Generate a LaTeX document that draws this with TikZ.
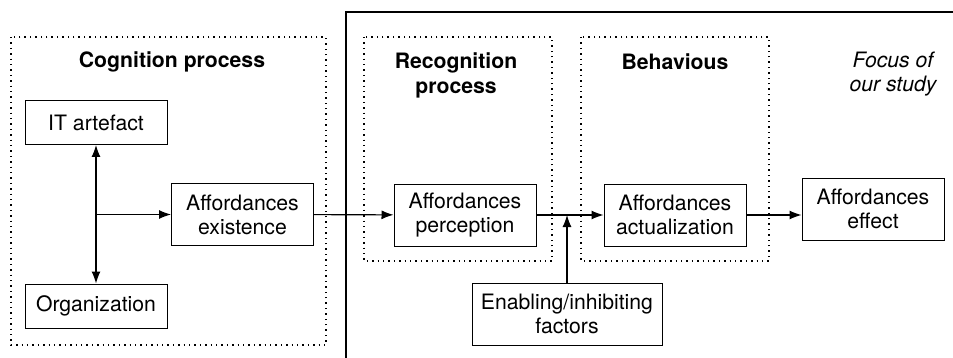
\documentclass[tikz,border=0pt]{standalone}
\usepackage{fontspec}
\setmainfont{TeX Gyre Heros}
\usetikzlibrary{positioning}
\usetikzlibrary{arrows.meta}
\usetikzlibrary{calc}

\begin{document}
\begin{tikzpicture}[x=0.5pt,y=-0.5pt,
    font=\fontsize{10.6}{12}\selectfont,
    factor/.style={draw,line width=0.5pt,align=center,inner sep=1pt,minimum width=71pt,minimum height=31pt},
    stage/.style={draw,dotted,line width=0.7pt},
    heading/.style={font=\fontsize{10.6}{12.5}\selectfont\bfseries,align=center},
    link/.style={line width=0.55pt,-{Latex[length=6pt,width=4.5pt]}}]
        \useasboundingbox (0,0) rectangle (953,358);

        % Dotted stage boxes and the study frame
        \draw[stage] (11,37) rectangle (326,345);
        \draw[stage] (364,37) rectangle (552,261);
        \draw[stage] (581,37) rectangle (769,261);
        \draw[line width=1pt] (346,358) -- (346,12) -- (953,12);

        % Headings
        \node[heading] (cog) at (172,62) {Cognition process};
        \node[heading] (rec) at (456,75) {Recognition\\process};
        \node[heading] (beh) at (675,62) {Behavious};
        \node[align=center,font=\fontsize{10.6}{12}\selectfont\itshape] (focus) at (893,74) {Focus of\\our study};

        % Boxes
        \node[factor,minimum height=22pt] (it) at (96,122.5) {IT artefact};
        \node[factor,minimum height=22pt] (org) at (96,306) {Organization};
        \node[factor] (exist) at (242.5,214.5) {Affordances\\existence};
        \node[factor] (perc) at (465,215) {Affordances\\perception};
        \node[factor] (actu) at (675,215) {Affordances\\actualization};
        \node[factor] (effect) at (873,209) {Affordances\\effect};
        \node[factor,minimum width=95pt] (enable) at (567,314) {Enabling/inhibiting\\factors};

        % Connectors
        \coordinate (split) at (it.south |- exist.west);
        \coordinate (join) at (enable.north |- perc.east);
        \draw[link,{Latex[length=6pt,width=4.5pt]}-{Latex[length=6pt,width=4.5pt]}] (it) -- (org);
        \draw[link] (split) -- (exist);
        \draw[link] (exist) -- (perc);
        \draw[link] (perc) -- (actu);
        \draw[link] (enable) -- (join);
        \draw[link] (actu.east) -- (actu.east -| effect.west);
\end{tikzpicture}
\end{document}
